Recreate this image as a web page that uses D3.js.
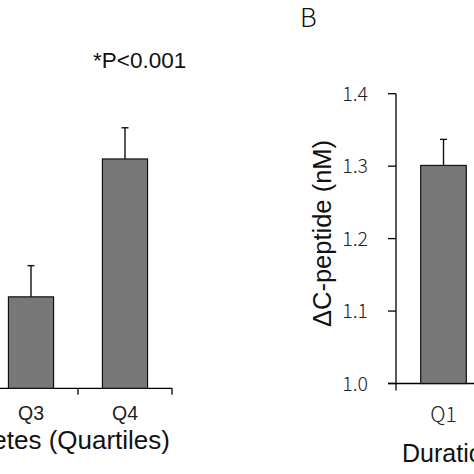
<!DOCTYPE html>
<html>
<head>
<meta charset="utf-8">
<script src="https://cdn.jsdelivr.net/npm/d3@7/dist/d3.min.js"></script>
<style>
  html, body { margin: 0; padding: 0; background: #fff; overflow: hidden; }
  svg { display: block; }
</style>
</head>
<body>
<script>
// ---- data ----
const leftCategories = ["Q3", "Q4"];
const leftValues = [1.126, 1.316];
const leftErrors = [0.043, 0.043];

const rightCategories = ["Q1", "Q2", "Q3", "Q4"];
const rightShown = ["Q1"];
const rightValues = [1.301];
const rightErrors = [0.036];

const yTicks = [1.0, 1.1, 1.2, 1.3, 1.4];
const pText = "*P<0.001";
const panelLabel = "B";
const yTitle = "\u0394C-peptide (nM)";
const xTitle = "Duration of diabetes (Quartiles)";

// ---- drawing ----
const W = 474, H = 474;
const svg = d3.select("body").append("svg").attr("width", W).attr("height", H);

const barFill = "#787878";
const tickFont = "'Noto Sans CJK KR', 'Noto Sans', sans-serif";
const titleFont = "'Liberation Sans', Arial, sans-serif";

// Left panel
const yL = d3.scaleLinear().domain([1.0, 1.4]).range([388.3, 98]);
const xL = d3.scaleBand().domain(leftCategories).range([-16, 172]).paddingInner(0.52).paddingOuter(0.26);

const gL = svg.append("g");
gL.append("line").attr("x1", -5).attr("x2", 172).attr("y1", yL(1.0)).attr("y2", yL(1.0))
  .attr("stroke", "#000").attr("stroke-width", 1.3);
const leftBoundaries = leftCategories.map((c, i) => xL.range()[0] + (i + 1) * xL.step());
gL.selectAll("line.tk").data(leftBoundaries).join("line")
  .attr("class", "tk")
  .attr("x1", d => d).attr("x2", d => d)
  .attr("y1", yL(1.0)).attr("y2", yL(1.0) + 6.5)
  .attr("stroke", "#000").attr("stroke-width", 1.3);

gL.selectAll("rect").data(leftCategories).join("rect")
  .attr("x", d => xL(d)).attr("width", xL.bandwidth())
  .attr("y", (d, i) => yL(leftValues[i]))
  .attr("height", (d, i) => yL(1.0) - yL(leftValues[i]))
  .attr("fill", barFill).attr("stroke", "#111").attr("stroke-width", 1.2);

leftCategories.forEach((c, i) => {
  const cx = xL(c) + xL.bandwidth() / 2;
  gL.append("line").attr("x1", cx).attr("x2", cx)
    .attr("y1", yL(leftValues[i])).attr("y2", yL(leftValues[i] + leftErrors[i]))
    .attr("stroke", "#111").attr("stroke-width", 1.4);
  gL.append("line").attr("x1", cx - 3.5).attr("x2", cx + 3.5)
    .attr("y1", yL(leftValues[i] + leftErrors[i])).attr("y2", yL(leftValues[i] + leftErrors[i]))
    .attr("stroke", "#111").attr("stroke-width", 1.4);
  gL.append("text").attr("x", cx).attr("y", 419.5)
    .attr("text-anchor", "middle").attr("font-family", titleFont).attr("font-size", 19.5)
    .attr("fill", "#222").text(c);
});

gL.append("text").attr("x", 170).attr("y", 448.5)
  .attr("text-anchor", "end").attr("font-family", titleFont).attr("font-size", 26)
  .attr("fill", "#111").text(xTitle);

svg.append("text").attr("x", 93).attr("y", 67.5)
  .attr("font-family", titleFont).attr("font-size", 22.5).attr("fill", "#111").text(pText);

// Right panel
const yR = d3.scaleLinear().domain([1.0, 1.4]).range([383.5, 93.7]);
const axisX = 396;
const xR = d3.scaleBand().domain(rightCategories).range([axisX, axisX + 4 * 95]).paddingInner(0.52).paddingOuter(0.26);

const gR = svg.append("g");
gR.append("line").attr("x1", axisX).attr("x2", axisX).attr("y1", yR(1.4)).attr("y2", yR(1.0) + 7)
  .attr("stroke", "#000").attr("stroke-width", 1.3);
gR.selectAll("line.yt").data(yTicks).join("line")
  .attr("class", "yt")
  .attr("x1", axisX - 8).attr("x2", axisX)
  .attr("y1", d => yR(d)).attr("y2", d => yR(d))
  .attr("stroke", "#000").attr("stroke-width", 1.3);
gR.append("line").attr("x1", axisX - 8).attr("x2", W + 5).attr("y1", yR(1.0)).attr("y2", yR(1.0))
  .attr("stroke", "#000").attr("stroke-width", 1.3);
gR.selectAll("text.yl").data(yTicks).join("text")
  .attr("class", "yl")
  .attr("x", 368).attr("y", d => yR(d) + 7)
  .attr("text-anchor", "end").attr("font-family", tickFont).attr("font-size", 19.5)
  .attr("font-weight", 300).attr("fill", "#222").text(d => d.toFixed(1));

gR.selectAll("rect").data(rightShown).join("rect")
  .attr("x", d => xR(d)).attr("width", xR.bandwidth())
  .attr("y", (d, i) => yR(rightValues[i]))
  .attr("height", (d, i) => yR(1.0) - yR(rightValues[i]))
  .attr("fill", barFill).attr("stroke", "#111").attr("stroke-width", 1.2);

rightShown.forEach((c, i) => {
  const cx = xR(c) + xR.bandwidth() / 2;
  gR.append("line").attr("x1", cx).attr("x2", cx)
    .attr("y1", yR(rightValues[i])).attr("y2", yR(rightValues[i] + rightErrors[i]))
    .attr("stroke", "#111").attr("stroke-width", 1.4);
  gR.append("line").attr("x1", cx - 3.5).attr("x2", cx + 3.5)
    .attr("y1", yR(rightValues[i] + rightErrors[i])).attr("y2", yR(rightValues[i] + rightErrors[i]))
    .attr("stroke", "#111").attr("stroke-width", 1.4);
  gR.append("text").attr("x", cx).attr("y", 421.5)
    .attr("text-anchor", "middle").attr("font-family", tickFont).attr("font-size", 21)
    .attr("font-weight", 300).attr("fill", "#222").text(c);
});

gR.append("text").attr("x", 402).attr("y", 461.5)
  .attr("font-family", titleFont).attr("font-size", 25).attr("fill", "#111").text(xTitle);

gR.append("text")
  .attr("transform", `translate(331,${(140 + 327) / 2}) rotate(-90)`)
  .attr("text-anchor", "middle").attr("font-family", titleFont).attr("font-size", 25.5)
  .attr("fill", "#111").text(yTitle);

svg.append("text").attr("x", 300).attr("y", 26.5)
  .attr("font-family", tickFont).attr("font-size", 26).attr("font-weight", 300)
  .attr("fill", "#111").text(panelLabel);
</script>
</body>
</html>
